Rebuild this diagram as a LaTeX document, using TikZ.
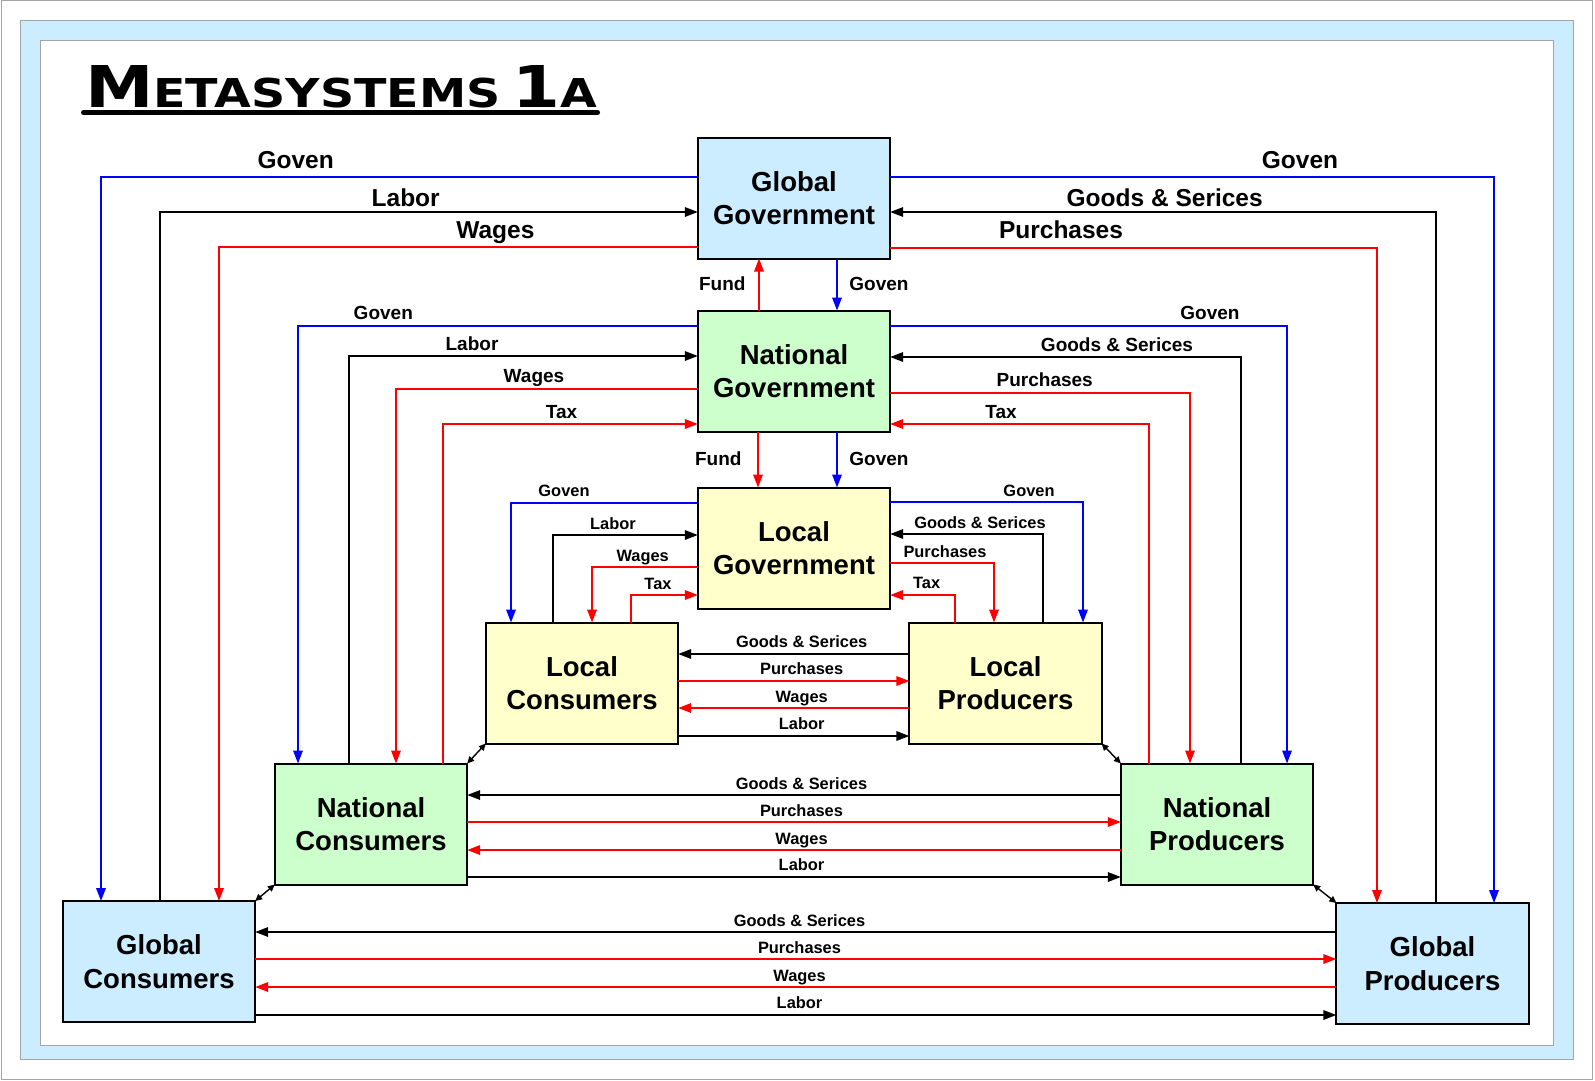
\documentclass[tikz,border=0pt]{standalone}
\usepackage{fontspec}
\setmainfont{Liberation Sans}
\newfontfamily\titlefont{DejaVu Sans}
\usepackage{graphicx}
\usetikzlibrary{arrows.meta}
\definecolor{boxblue}{RGB}{204,236,255}
\definecolor{boxgreen}{RGB}{204,255,204}
\definecolor{boxyellow}{RGB}{255,255,204}
\definecolor{framegray}{RGB}{165,165,165}
\definecolor{lblue}{RGB}{0,0,255}
\definecolor{lred}{RGB}{255,0,0}
\begin{document}
\begin{tikzpicture}[x=1pt,y=-1pt,
  box/.style={draw=black, line width=2pt, minimum width=192.3pt, minimum height=121pt,
    inner sep=0pt, outer sep=0pt, align=center, font=\fontsize{27.5}{33.4}\selectfont\bfseries},
  gbox/.style={box, fill=boxblue},
  nbox/.style={box, fill=boxgreen},
  lbox/.style={box, fill=boxyellow},
  conn/.style={line width=1.7pt, -{Triangle[length=13pt,width=9.5pt]}},
  cb/.style={conn, draw=lblue},
  cr/.style={conn, draw=lred},
  ck/.style={conn, draw=black},
  dbl/.style={line width=1.4pt, {Triangle[length=7pt,width=6.5pt]}-{Triangle[length=7pt,width=6.5pt]}},
  labA/.style={anchor=base, inner sep=0pt, font=\fontsize{24.5}{28}\selectfont\bfseries},
  labB/.style={anchor=base, inner sep=0pt, font=\fontsize{19}{22}\selectfont\bfseries},
  labC/.style={anchor=base, inner sep=0pt, font=\fontsize{16.4}{19}\selectfont\bfseries}
]
\useasboundingbox (0,0) rectangle (1595,1080);
% frames
\draw[framegray, line width=1pt] (1,0.5) rectangle (1592.5,1079.5);
\draw[framegray, fill=boxblue, line width=1pt] (20,20) rectangle (1573,1059);
\draw[framegray, fill=white, line width=1pt] (40,40) rectangle (1553,1045);

% title
\node[anchor=base west, inner sep=0pt, outer sep=0pt] (title) at (85,107)
  {\resizebox{512pt}{42pt}{\titlefont\bfseries\fontsize{58.7}{60}\selectfont M\fontsize{40.5}{42}\selectfont ETASYSTEMS\hspace{0.25em}\fontsize{58.7}{60}\selectfont 1\fontsize{40.5}{42}\selectfont A}};
\draw[line width=5pt, line cap=round] ([xshift=-1.5pt,yshift=-5.5pt]title.base west) -- ([xshift=0.5pt,yshift=-5.5pt]title.base east);

% boxes
\node[gbox] (GG) at (794,198) {Global\\Government};
\node[nbox] (NG) at (794,371) {National\\Government};
\node[lbox] (LG) at (794,548) {Local\\Government};
\node[lbox] (LC) at (582,683) {Local\\Consumers};
\node[lbox] (LP) at (1005.5,683) {Local\\Producers};
\node[nbox] (NC) at (371,824) {National\\Consumers};
\node[nbox] (NP) at (1217,824) {National\\Producers};
\node[gbox] (GC) at (159,961.5) {Global\\Consumers};
\node[gbox] (GP) at (1432.5,963.5) {Global\\Producers};

% global level
\draw[cb] (GG.west |- 0,177) -| (GC.north -| 101,0);
\draw[ck] (GC.north -| 160,0) |- (GG.west |- 0,212);
\draw[cr] (GG.west |- 0,247) -| (GC.north -| 219,0);
\draw[cb] (GG.east |- 0,177) -| (GP.north -| 1494,0);
\draw[ck] (GP.north -| 1436,0) |- (GG.east |- 0,212);
\draw[cr] (GG.east |- 0,248) -| (GP.north -| 1377,0);
\draw[cr] (NG.north -| 759,0) -- (GG.south -| 759,0);
\draw[cb] (GG.south -| 837,0) -- (NG.north -| 837,0);
\node[labA] (a1) at (295.7,168.3) {Goven};
\node[labA] (a2) at (405.7,206.7) {Labor};
\node[labA] (a3) at (495.4,238.5) {Wages};
\node[labA] (a4) at (1300,168.3) {Goven};
\node[labA] (a5) at (1164.7,206.7) {Goods \& Serices};
\node[labA] (a6) at (1061,238.5) {Purchases};
\node[labB] (a7) at (722.3,290) {Fund};
\node[labB] (a8) at (879,290) {Goven};

% national level
\draw[cb] (NG.west |- 0,326) -| (NC.north -| 298,0);
\draw[ck] (NC.north -| 349,0) |- (NG.west |- 0,356);
\draw[cr] (NG.west |- 0,389) -| (NC.north -| 396,0);
\draw[cr] (NC.north -| 443,0) |- (NG.west |- 0,424);
\draw[cb] (NG.east |- 0,326) -| (NP.north -| 1287,0);
\draw[ck] (NP.north -| 1241,0) |- (NG.east |- 0,357);
\draw[cr] (NG.east |- 0,393) -| (NP.north -| 1190,0);
\draw[cr] (NP.north -| 1149,0) |- (NG.east |- 0,424);
\draw[cr] (NG.south -| 758,0) -- (LG.north -| 758,0);
\draw[cb] (NG.south -| 837,0) -- (LG.north -| 837,0);
\node[labB] (b1) at (383.3,319.3) {Goven};
\node[labB] (b2) at (472,350.5) {Labor};
\node[labB] (b3) at (534,382.7) {Wages};
\node[labB] (b4) at (561.5,418) {Tax};
\node[labB] (b5) at (1210,319.3) {Goven};
\node[labB] (b6) at (1117,351.3) {Goods \& Serices};
\node[labB] (b7) at (1044.7,386.7) {Purchases};
\node[labB] (b8) at (1001,418) {Tax};
\node[labB] (b9) at (718.3,465.4) {Fund};
\node[labB] (b10) at (879,465.4) {Goven};

% local level
\draw[cb] (LG.west |- 0,503) -| (LC.north -| 511,0);
\draw[ck] (LC.north -| 553,0) |- (LG.west |- 0,535);
\draw[cr] (LG.west |- 0,567) -| (LC.north -| 592,0);
\draw[cr] (LC.north -| 631,0) |- (LG.west |- 0,595);
\draw[cb] (LG.east |- 0,502) -| (LP.north -| 1083,0);
\draw[ck] (LP.north -| 1043,0) |- (LG.east |- 0,534);
\draw[cr] (LG.east |- 0,563) -| (LP.north -| 994,0);
\draw[cr] (LP.north -| 955,0) |- (LG.east |- 0,595);
\node[labC] (c1) at (564,496.7) {Goven};
\node[labC] (c2) at (613,529) {Labor};
\node[labC] (c3) at (642.7,561.3) {Wages};
\node[labC] (c4) at (658,589) {Tax};
\node[labC] (c5) at (1029,496.5) {Goven};
\node[labC] (c6) at (980,528) {Goods \& Serices};
\node[labC] (c7) at (945,557.3) {Purchases};
\node[labC] (c8) at (926.7,588.7) {Tax};

% local consumers - producers
\draw[ck] (LP.west |- 0,654) -- (LC.east |- 0,654);
\draw[cr] (LC.east |- 0,681) -- (LP.west |- 0,681);
\draw[cr] (LP.west |- 0,708) -- (LC.east |- 0,708);
\draw[ck] (LC.east |- 0,736) -- (LP.west |- 0,736);
\node[labC] (d1) at (801.7,647.7) {Goods \& Serices};
\node[labC] (d2) at (801.7,674.7) {Purchases};
\node[labC] (d3) at (801.7,702) {Wages};
\node[labC] (d4) at (801.7,729.7) {Labor};

% national consumers - producers
\draw[ck] (NP.west |- 0,795) -- (NC.east |- 0,795);
\draw[cr] (NC.east |- 0,822) -- (NP.west |- 0,822);
\draw[cr] (NP.west |- 0,850) -- (NC.east |- 0,850);
\draw[ck] (NC.east |- 0,877) -- (NP.west |- 0,877);
\node[labC] (e1) at (801.5,789.3) {Goods \& Serices};
\node[labC] (e2) at (801.5,816.3) {Purchases};
\node[labC] (e3) at (801.5,844) {Wages};
\node[labC] (e4) at (801.5,870.7) {Labor};

% global consumers - producers
\draw[ck] (GP.west |- 0,932) -- (GC.east |- 0,932);
\draw[cr] (GC.east |- 0,959) -- (GP.west |- 0,959);
\draw[cr] (GP.west |- 0,987) -- (GC.east |- 0,987);
\draw[ck] (GC.east |- 0,1015) -- (GP.west |- 0,1015);
\node[labC] (f1) at (799.5,926) {Goods \& Serices};
\node[labC] (f2) at (799.5,953.3) {Purchases};
\node[labC] (f3) at (799.5,981) {Wages};
\node[labC] (f4) at (799.5,1008.7) {Labor};

% corner links
\draw[dbl] (LC.south west) -- (NC.north east);
\draw[dbl] (NC.south west) -- (GC.north east);
\draw[dbl] (LP.south east) -- (NP.north west);
\draw[dbl] (NP.south east) -- (GP.north west);
\end{tikzpicture}
\end{document}
